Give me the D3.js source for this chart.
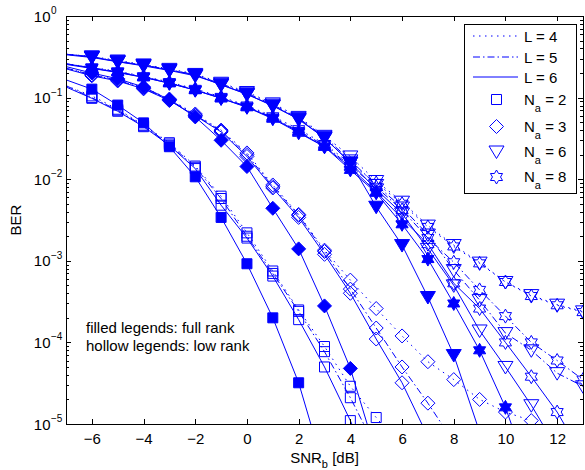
<!DOCTYPE html>
<html>
<head>
<meta charset="utf-8">
<script src="https://cdn.jsdelivr.net/npm/d3@7"></script>
<style>
body { margin: 0; background: #fff; }
text { font-family: "Liberation Sans", Arial, Helvetica, sans-serif; fill: #000; }
</style>
</head>
<body>
<div id="chart"></div>
<script>
// SNR_b grid [dB]
const snr = [-7, -6, -5, -4, -3, -2, -1, 0, 1, 2, 3, 4, 5, 6, 7, 8, 9, 10, 11, 12, 13];
const xTicks = [-6, -4, -2, 0, 2, 4, 6, 8, 10, 12];
const yDecades = [-5, -4, -3, -2, -1, 0];
const lValues = [4, 5, 6];
const naValues = [2, 3, 6, 8];

// full rank (filled markers)
const na2Full = [0.165, 0.127, 0.081, 0.049, 0.025, 0.0107, 0.0034, 9.2e-4, 2.0e-4, 3.2e-5, 2.7e-6, null, null, null, null, null, null, null, null, null, null];
const na3Full = [0.24, 0.20, 0.17, 0.135, 0.094, 0.058, 0.030, 0.0143, 0.0044, 1.4e-3, 2.8e-4, 4.8e-5, 4.3e-6, null, null, null, null, null, null, null, null];
const na6Full = [0.34, 0.317, 0.275, 0.25, 0.218, 0.19, 0.143, 0.11, 0.079, 0.055, 0.032, 0.016, 0.0046, 1.56e-3, 3.6e-4, 7.0e-5, 8e-6, null, null, null, null];
const na8Full = [0.26, 0.23, 0.205, 0.178, 0.15, 0.124, 0.098, 0.077, 0.056, 0.038, 0.025, 0.013, 0.0068, 0.0028, 1.05e-3, 3.0e-4, 8.0e-5, 1.6e-5, 2e-6, null, null];

// low rank (hollow markers), per channel length L
const na2L4 = [0.14, 0.105, 0.072, 0.046, 0.028, 0.0145, 0.0062, 0.0022, 7.5e-4, 2.5e-4, 8.9e-5, 2.9e-5, 1.2e-5, 5e-6, null, null, null, null, null, null, null];
const na2L5 = [0.14, 0.10, 0.07, 0.045, 0.027, 0.014, 0.0058, 0.0020, 7.0e-4, 2.4e-4, 7.7e-5, 2.1e-5, 5e-6, null, null, null, null, null, null, null, null];
const na2L6 = [0.135, 0.098, 0.068, 0.044, 0.026, 0.0135, 0.0048, 0.0019, 6.5e-4, 1.9e-4, 5.0e-5, 1.1e-5, 2e-6, null, null, null, null, null, null, null, null];

const na3L4 = [0.23, 0.19, 0.165, 0.133, 0.096, 0.063, 0.040, 0.021, 0.0085, 0.0037, 1.35e-3, 5.8e-4, 2.6e-4, 1.2e-4, 5.8e-5, 3.5e-5, 2.0e-5, 1.4e-5, 1.1e-5, null, null];
const na3L5 = [0.23, 0.19, 0.163, 0.13, 0.094, 0.061, 0.039, 0.020, 0.0081, 0.0036, 1.3e-3, 4.5e-4, 1.5e-4, 5.0e-5, 1.8e-5, 6e-6, null, null, null, null, null];
const na3L6 = [0.225, 0.185, 0.16, 0.128, 0.092, 0.060, 0.038, 0.019, 0.0078, 0.0034, 1.2e-3, 4.0e-4, 1.1e-4, 3.2e-5, 7e-6, null, null, null, null, null, null];

const na6L4 = [0.34, 0.32, 0.285, 0.255, 0.225, 0.195, 0.152, 0.117, 0.085, 0.058, 0.034, 0.019, 0.0095, 0.0053, 0.0027, 1.56e-3, 9.5e-4, 5.5e-4, 3.8e-4, 2.9e-4, 2.4e-4];
const na6L5 = [0.34, 0.315, 0.28, 0.25, 0.22, 0.19, 0.148, 0.113, 0.082, 0.056, 0.033, 0.017, 0.0085, 0.0045, 0.0021, 7.7e-4, 3.3e-4, 1.3e-4, 8.0e-5, 4.2e-5, 2.9e-5];
const na6L6 = [0.335, 0.31, 0.275, 0.245, 0.215, 0.185, 0.145, 0.11, 0.08, 0.054, 0.032, 0.016, 0.0075, 0.0038, 1.4e-3, 5.0e-4, 1.4e-4, 5.0e-5, 1.7e-5, 5e-6, null];

const na8L4 = [0.26, 0.235, 0.21, 0.183, 0.155, 0.128, 0.102, 0.080, 0.059, 0.041, 0.027, 0.0155, 0.0090, 0.0050, 0.0026, 1.5e-3, 9.3e-4, 5.5e-4, 3.7e-4, 2.85e-4, 2.35e-4];
const na8L5 = [0.26, 0.232, 0.207, 0.18, 0.152, 0.125, 0.10, 0.078, 0.057, 0.039, 0.026, 0.0145, 0.008, 0.0042, 0.0019, 9.6e-4, 4.4e-4, 2.1e-4, 1.0e-4, 6.0e-5, 3.5e-5];
const na8L6 = [0.255, 0.228, 0.203, 0.177, 0.15, 0.123, 0.098, 0.076, 0.055, 0.037, 0.025, 0.014, 0.007, 0.0033, 1.6e-3, 5.3e-4, 2.6e-4, 1.0e-4, 3.8e-5, 1.4e-5, 4e-6];

const series = [
  {v: na2L4, na: 2, L: 4, full: false}, {v: na2L5, na: 2, L: 5, full: false}, {v: na2L6, na: 2, L: 6, full: false},
  {v: na3L4, na: 3, L: 4, full: false}, {v: na3L5, na: 3, L: 5, full: false}, {v: na3L6, na: 3, L: 6, full: false},
  {v: na6L4, na: 6, L: 4, full: false}, {v: na6L5, na: 6, L: 5, full: false}, {v: na6L6, na: 6, L: 6, full: false},
  {v: na8L4, na: 8, L: 4, full: false}, {v: na8L5, na: 8, L: 5, full: false}, {v: na8L6, na: 8, L: 6, full: false},
  {v: na2Full, na: 2, L: 6, full: true}, {v: na3Full, na: 3, L: 6, full: true},
  {v: na6Full, na: 6, L: 6, full: true}, {v: na8Full, na: 8, L: 6, full: true}
];

const width = 585, height = 470;
const margin = {top: 16, right: 2, bottom: 46, left: 66};
const blue = "#0000ff";

const x = d3.scaleLinear().domain([-7, 13]).range([margin.left, width - margin.right]);
const y = d3.scaleLog().domain([1e-5, 1]).range([height - margin.bottom, margin.top]);

const dash = {4: "1.5,4.5", 5: "7,3,1.5,3", 6: null};

// marker shapes, MATLAB style: s, d, v, h
const hexagram = d3.range(12).map(k => {
  const a = -Math.PI / 2 + k * Math.PI / 6, r = k % 2 ? 7 / Math.sqrt(3) : 7;
  return [r * Math.cos(a), r * Math.sin(a)];
});
const shapes = {
  2: "M-5,-5H5V5H-5Z",
  3: "M0,-7L7,0L0,7L-7,0Z",
  6: "M-7.5,-5.5L7.5,-5.5L0,7Z",
  8: "M" + hexagram.map(p => p[0].toFixed(2) + "," + p[1].toFixed(2)).join("L") + "Z"
};

const svg = d3.select("#chart").append("svg")
  .attr("width", width)
  .attr("height", height);

svg.append("defs").append("clipPath").attr("id", "plot")
  .append("rect")
  .attr("x", margin.left).attr("y", margin.top)
  .attr("width", width - margin.left - margin.right)
  .attr("height", height - margin.top - margin.bottom);

const plot = svg.append("g").attr("clip-path", "url(#plot)");

const line = d3.line()
  .defined(d => d[1] != null)
  .x(d => x(d[0]))
  .y(d => y(d[1]));

series.forEach(s => {
  const pts = snr.map((t, i) => [t, s.v[i]]);
  plot.append("path")
    .datum(pts)
    .attr("d", line)
    .attr("fill", "none")
    .attr("stroke", blue)
    .attr("stroke-width", 1)
    .attr("stroke-dasharray", dash[s.L]);
  plot.selectAll(null)
    .data(pts.filter(d => d[1] != null && d[0] >= -6))
    .join("path")
    .attr("transform", d => `translate(${x(d[0])},${y(d[1])})`)
    .attr("d", shapes[s.na])
    .attr("fill", s.full ? blue : "none")
    .attr("stroke", blue)
    .attr("stroke-width", 1);
});

// axes box and ticks
const isMajor = d => Math.abs(Math.log10(d) - Math.round(Math.log10(d))) < 1e-9;
const majors = y.ticks().filter(isMajor);
const minors = y.ticks().filter(d => !isMajor(d));

function styleAxis(g) {
  g.select(".domain").remove();
  g.selectAll(".tick line").attr("stroke", "#000").attr("shape-rendering", "crispEdges");
  g.selectAll("text").attr("font-size", 15).attr("font-family", "Liberation Sans, Arial, sans-serif").attr("fill", "#000");
}

svg.append("g")
  .attr("transform", `translate(0,${height - margin.bottom})`)
  .call(d3.axisBottom(x).tickValues(xTicks).tickSizeInner(-5).tickSizeOuter(0).tickPadding(9))
  .call(styleAxis);
svg.append("g")
  .attr("transform", `translate(0,${margin.top})`)
  .call(d3.axisTop(x).tickValues(xTicks).tickSizeInner(-5).tickSizeOuter(0).tickFormat(""))
  .call(styleAxis);
[[d3.axisLeft, margin.left], [d3.axisRight, width - margin.right]].forEach(([ax, pos]) => {
  svg.append("g").attr("transform", `translate(${pos},0)`)
    .call(ax(y).tickValues(majors).tickSizeInner(-5).tickSizeOuter(0).tickFormat(""))
    .call(styleAxis);
  svg.append("g").attr("transform", `translate(${pos},0)`)
    .call(ax(y).tickValues(minors).tickSizeInner(-3).tickSizeOuter(0).tickFormat(""))
    .call(styleAxis);
});

svg.append("rect")
  .attr("x", margin.left).attr("y", margin.top)
  .attr("width", width - margin.left - margin.right)
  .attr("height", height - margin.top - margin.bottom)
  .attr("fill", "none").attr("stroke", "#000").attr("stroke-width", 1)
  .attr("shape-rendering", "crispEdges");

// y tick labels 10^k
svg.selectAll(".ybase").data(yDecades).join("text")
  .attr("x", 50.5).attr("y", d => y(10 ** d) + 5.5)
  .attr("text-anchor", "end").attr("font-size", 15)
  .text("10");
svg.selectAll(".yexp").data(yDecades).join("text")
  .attr("x", 51).attr("y", d => y(10 ** d) - 2)
  .attr("font-size", 10)
  .text(d => d === 0 ? "0" : "\u2212" + (-d));

// axis titles
const xl = svg.append("text")
  .attr("x", (margin.left + width - margin.right) / 2).attr("y", 463)
  .attr("text-anchor", "middle").attr("font-size", 15);
xl.append("tspan").text("SNR");
xl.append("tspan").attr("dy", 5).attr("font-size", 11).text("b");
xl.append("tspan").attr("dy", -5).text(" [dB]");

svg.append("text")
  .attr("transform", "translate(20.5,220) rotate(-90)")
  .attr("text-anchor", "middle").attr("font-size", 15)
  .text("BER");

// annotation
svg.append("text").attr("x", 86).attr("y", 333).attr("font-size", 15).text("filled legends: full rank");
svg.append("text").attr("x", 86).attr("y", 351).attr("font-size", 15).text("hollow legends: low rank");

// legend
const lg = svg.append("g");
lg.append("rect")
  .attr("x", 464).attr("y", 24).attr("width", 112).attr("height", 169)
  .attr("fill", "#fff").attr("stroke", "#000").attr("stroke-width", 1)
  .attr("shape-rendering", "crispEdges");
const lY = [36, 57, 77];
lValues.forEach((L, i) => {
  lg.append("line")
    .attr("x1", 473).attr("x2", 518).attr("y1", lY[i]).attr("y2", lY[i])
    .attr("stroke", blue).attr("stroke-width", 1)
    .attr("stroke-dasharray", dash[L]);
  lg.append("text").attr("x", 524).attr("y", lY[i] + 6).attr("font-size", 15).text("L = " + L);
});
const nY = [99.5, 126.5, 151.5, 177];
naValues.forEach((na, i) => {
  lg.append("path")
    .attr("transform", `translate(496.5,${nY[i]})`)
    .attr("d", shapes[na])
    .attr("fill", "none").attr("stroke", blue).attr("stroke-width", 1);
  const t = lg.append("text").attr("x", 524).attr("y", nY[i] + 5).attr("font-size", 15);
  t.append("tspan").text("N");
  t.append("tspan").attr("dy", 7).attr("font-size", 11).text("a");
  t.append("tspan").attr("dy", -7).text(" = " + na);
});
</script>
</body>
</html>
